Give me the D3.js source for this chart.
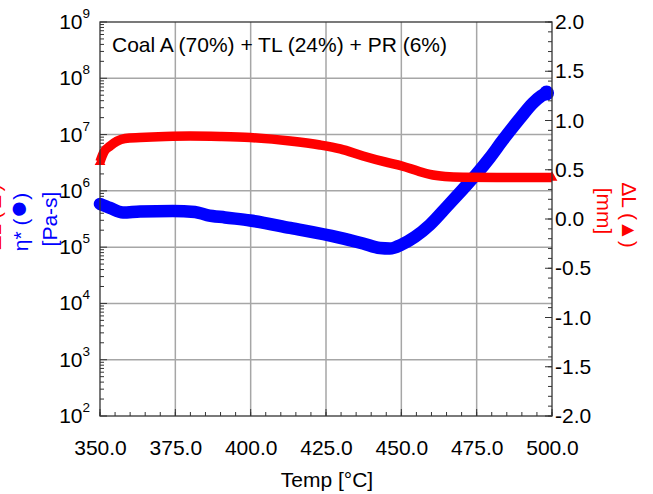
<!DOCTYPE html>
<html>
<head>
<meta charset="utf-8">
<script src="https://cdn.jsdelivr.net/npm/d3@7"></script>
<style>
  html, body { margin: 0; padding: 0; background: #fff; }
  svg { display: block; font-family: "Liberation Sans", Arial, sans-serif; }
</style>
</head>
<body>
<svg id="chart" width="653" height="494"></svg>
<script>
// ---- data ----
const chartTitle = "Coal A (70%) + TL (24%) + PR (6%)";
const xTicks = [350, 375, 400, 425, 450, 475, 500];
const leftExponents = [2, 3, 4, 5, 6, 7, 8, 9];
const rightTicks = [-2.0, -1.5, -1.0, -0.5, 0.0, 0.5, 1.0, 1.5, 2.0];

// complex viscosity eta* [Pa-s] (blue circles, left log axis)
const etaTemp = [350.0, 353.3, 357.6, 363.3, 374.2, 381.5, 385.5, 391.5, 399.8, 413.1,
                 429.0, 437.3, 442.9, 446.2, 450.2, 454.5, 459.5, 465.2, 470.5, 474.8,
                 479.4, 483.7, 489.4, 493.7, 496.4, 498.2];
const etaValue = [5.85e5, 4.97e5, 4.13e5, 4.31e5, 4.39e5, 4.22e5, 3.72e5, 3.37e5, 2.98e5, 2.19e5,
                  1.49e5, 1.16e5, 9.66e4, 9.46e4, 1.12e5, 1.52e5, 2.50e5, 5.30e5, 1.08e6, 1.95e6,
                  3.90e6, 8.00e6, 1.95e7, 3.64e7, 4.84e7, 5.48e7];

// displacement dL [mm] (red triangles, right axis)
const dlTemp = [350.0, 351.3, 353.3, 355.6, 358.3, 363.3, 371.6, 379.9, 389.8, 399.8,
                413.1, 423.0, 429.7, 437.3, 444.6, 450.2, 455.5, 459.5, 464.5, 470.5,
                482.8, 500.0];
const dlValue = [0.58, 0.68, 0.74, 0.79, 0.817, 0.827, 0.838, 0.843, 0.838, 0.827,
                 0.792, 0.751, 0.711, 0.640, 0.579, 0.538, 0.487, 0.452, 0.431, 0.423,
                 0.421, 0.421];

// ---- layout ----
const svg = d3.select("#chart");
const L = 100, R = 552, T = 22, B = 416;
const x = d3.scaleLinear().domain([350, 500]).range([L, R]);
const yL = d3.scaleLog().domain([1e2, 1e9]).range([B, T]);
const yR = d3.scaleLinear().domain([-2, 2]).range([B, T]);
const gridColor = "#a6a6a6";
const axisColor = "#333";

// grid
const grid = svg.append("g");
grid.selectAll("line.vx").data(xTicks.slice(1, -1)).enter().append("line")
  .attr("x1", d => x(d)).attr("x2", d => x(d)).attr("y1", T).attr("y2", B)
  .attr("stroke", gridColor).attr("stroke-width", 1.5);
grid.selectAll("line.hy").data(leftExponents.slice(1, -1)).enter().append("line")
  .attr("x1", L).attr("x2", R).attr("y1", d => yL(Math.pow(10, d))).attr("y2", d => yL(Math.pow(10, d)))
  .attr("stroke", gridColor).attr("stroke-width", 1.5);

// ticks
const ticks = svg.append("g").attr("stroke", axisColor).attr("stroke-width", 1);
const leftMinor = [];
leftExponents.slice(0, -1).forEach(e => { for (let m = 2; m <= 9; m++) leftMinor.push(m * Math.pow(10, e)); });
ticks.selectAll("line.lm").data(leftMinor).enter().append("line")
  .attr("x1", L).attr("x2", L + 4).attr("y1", d => yL(d)).attr("y2", d => yL(d));
ticks.selectAll("line.lM").data(leftExponents).enter().append("line")
  .attr("x1", L).attr("x2", L + 7).attr("y1", d => yL(Math.pow(10, d))).attr("y2", d => yL(Math.pow(10, d)));
const rightMinor = d3.range(-20, 21).map(i => i / 10);
ticks.selectAll("line.rm").data(rightMinor).enter().append("line")
  .attr("x1", R).attr("x2", R - 4).attr("y1", d => yR(d)).attr("y2", d => yR(d));
ticks.selectAll("line.rM").data(rightTicks).enter().append("line")
  .attr("x1", R).attr("x2", R - 7).attr("y1", d => yR(d)).attr("y2", d => yR(d));
const bottomMinor = d3.range(350, 501, 5);
ticks.selectAll("line.bm").data(bottomMinor).enter().append("line")
  .attr("x1", d => x(d)).attr("x2", d => x(d)).attr("y1", B).attr("y2", B - 4);
ticks.selectAll("line.bM").data(xTicks).enter().append("line")
  .attr("x1", d => x(d)).attr("x2", d => x(d)).attr("y1", B).attr("y2", B - 7);

// series: blue eta*
const etaData = etaTemp.map((t, i) => [t, etaValue[i]]);
const etaLine = d3.line().x(d => x(d[0])).y(d => yL(d[1])).curve(d3.curveMonotoneX);
svg.append("path").datum(etaData).attr("d", etaLine)
  .attr("fill", "none").attr("stroke", "#0000ff").attr("stroke-width", 12.5)
  .attr("stroke-linecap", "round").attr("stroke-linejoin", "round");
const lastEta = etaData[etaData.length - 1];
svg.append("circle").attr("cx", x(lastEta[0])).attr("cy", yL(lastEta[1])).attr("r", 7.5).attr("fill", "#0000ff");

// series: red dL
const dlData = dlTemp.map((t, i) => [t, dlValue[i]]);
const dlLine = d3.line().x(d => x(d[0])).y(d => yR(d[1])).curve(d3.curveMonotoneX);
svg.append("path").datum(dlData).attr("d", dlLine)
  .attr("fill", "none").attr("stroke", "#ff0000").attr("stroke-width", 9.5)
  .attr("stroke-linecap", "butt").attr("stroke-linejoin", "round");
svg.selectAll("path.tri").data([dlData[0], dlData[dlData.length - 1]]).enter().append("path")
  .attr("d", d3.symbol().type(d3.symbolTriangle).size(50))
  .attr("transform", d => `translate(${x(d[0])},${yR(d[1])})`)
  .attr("fill", "#ff0000");

// frame
svg.append("rect").attr("x", L).attr("y", T).attr("width", R - L).attr("height", B - T)
  .attr("fill", "none").attr("stroke", axisColor).attr("stroke-width", 1.3);

// tick labels
const fs = 21;
const leftLab = svg.append("g").attr("font-size", fs).attr("fill", "#000");
leftExponents.forEach(e => {
  const t = leftLab.append("text").attr("x", 90).attr("y", yL(Math.pow(10, e)) + 7).attr("text-anchor", "end");
  t.append("tspan").text("10");
  t.append("tspan").attr("font-size", 13.5).attr("dy", -11).text(String(e));
});
svg.append("g").attr("font-size", fs).selectAll("text").data(rightTicks).enter().append("text")
  .attr("x", 555).attr("y", d => yR(d) + 7).text(d => d.toFixed(1));
svg.append("g").attr("font-size", fs).selectAll("text").data(xTicks).enter().append("text")
  .attr("x", d => x(d) + 0.5).attr("y", 455).attr("text-anchor", "middle").text(d => d.toFixed(1));

// titles
svg.append("text").attr("x", 112).attr("y", 52).attr("font-size", fs).text(chartTitle);
svg.append("text").attr("x", 327).attr("y", 487).attr("text-anchor", "middle")
  .attr("font-size", fs).text("Temp [°C]");

// left axis titles (partly clipped red one, as in the reference, + blue)
svg.append("text").attr("transform", "translate(1,217) rotate(-90)").attr("text-anchor", "middle")
  .attr("font-size", fs).attr("fill", "#ff0000").text("ΔL (▲)");
const etaTitle = svg.append("text").attr("transform", "translate(28,222) rotate(-90)").attr("text-anchor", "middle")
  .attr("font-size", fs).attr("fill", "#0000ff");
etaTitle.append("tspan").text("η* (");
etaTitle.append("tspan").attr("font-size", 31).text("●");
etaTitle.append("tspan").text(")");
svg.append("text").attr("transform", "translate(57,219) rotate(-90)").attr("text-anchor", "middle")
  .attr("font-size", fs).attr("fill", "#0000ff").text("[Pa-s]");

// right axis titles
svg.append("text").attr("transform", "translate(622,215) rotate(90)").attr("text-anchor", "middle")
  .attr("font-size", fs).attr("fill", "#ff0000").text("ΔL (▲)");
svg.append("text").attr("transform", "translate(597,211) rotate(90)").attr("text-anchor", "middle")
  .attr("font-size", fs).attr("fill", "#ff0000").text("[mm]");
</script>
</body>
</html>
